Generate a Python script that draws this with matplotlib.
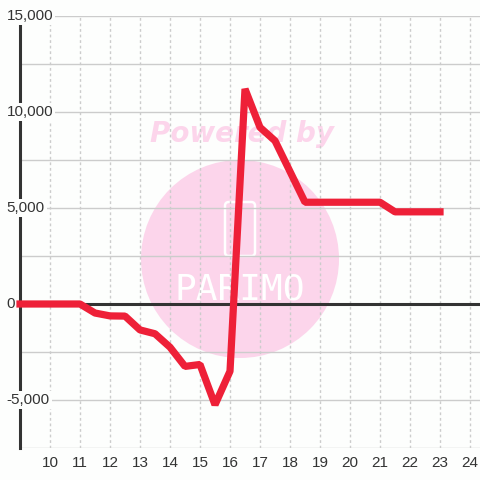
import numpy as np
import matplotlib
matplotlib.use("Agg")
import matplotlib.pyplot as plt
from matplotlib.patches import Circle, FancyBboxPatch

plt.rcParams["font.family"] = ["Liberation Sans", "DejaVu Sans"]

# =============================
# Data
# =============================
x_vals = [9, 9.5, 10, 10.5, 11, 11.5, 12, 12.5, 13, 13.5, 14, 14.5, 15, 15.5,
          16, 16.5, 17, 17.5, 18, 18.5, 19, 19.5, 20, 20.5, 21, 21.5, 22, 22.5, 23]
y_vals = [0, 0, 0, 0, 0, -470, -620, -630, -1350, -1550, -2250, -3250, -3150, -5250,
          -3500, 11200, 9200, 8500, 6900, 5300, 5300, 5300, 5300, 5300, 5300, 4800,
          4800, 4800, 4800]

x_ticks = list(range(10, 25))
y_ticks = [-5000, 0, 5000, 10000, 15000]
y_labels = ["-5,000", "0", "5,000", "10,000", "15,000"]

# =============================
# Figure
# =============================
bg = "#fdfefd"
fig = plt.figure(figsize=(4.8, 4.8), dpi=100)
fig.patch.set_facecolor(bg)
ax = fig.add_axes([20 / 480, 32 / 480, 460 / 480, 432 / 480])
ax.set_facecolor("none")

ax.set_xlim(9, 24.333)
ax.set_ylim(-7500, 15000)

# watermark (behind the grid)
pink = "#fcd5eb"
ax.add_patch(Circle((0.5, 1 - 259 / 480), 99 / 480, transform=fig.transFigure,
                    facecolor=pink, edgecolor="none", zorder=1, clip_on=False))
ax.text(242 / 480, 1 - 134 / 480, "Powered by", transform=fig.transFigure,
        color=pink, fontsize=20, fontweight="bold", fontstyle="italic",
        family="DejaVu Sans", ha="center", va="center", zorder=1)
ax.add_patch(FancyBboxPatch((225 / 480, 1 - 256 / 480), 30 / 480, 54 / 480,
                            boxstyle="round,pad=0,rounding_size=0.008",
                            transform=fig.transFigure, facecolor="none",
                            edgecolor="white", linewidth=1.8, zorder=1, clip_on=False))
ax.text(240 / 480, 1 - 290 / 480, "PARIMO", transform=fig.transFigure,
        color="white", fontsize=26, family="DejaVu Sans Mono",
        ha="center", va="center", zorder=1)

# grid
for yv in np.arange(-7500, 15001, 2500):
    ax.axhline(yv, color="#cccccc", linewidth=1, zorder=2)
for xv in x_ticks:
    ax.plot([xv, xv], [-7500, 15000], color="#cccccc", linewidth=1,
            linestyle=(0, (2, 2)), zorder=2)

# zero line and left spine
ax.axhline(0, color="#333333", linewidth=2.2, zorder=3)
for s in ["top", "right", "bottom"]:
    ax.spines[s].set_visible(False)
ax.spines["left"].set_color("#333333")
ax.spines["left"].set_linewidth(2.2)
ax.spines["left"].set_bounds(-7500, 15000)
ax.spines["left"].set_zorder(3)

# series
ax.plot(x_vals, y_vals, color="#ee2038", linewidth=5.2, zorder=6, clip_on=False,
        solid_joinstyle="bevel")

# ticks
ax.set_xticks(x_ticks)
ax.tick_params(axis="x", length=0, pad=6, labelsize=11, labelcolor="#333333")
ax.set_yticks([])
for yv, lab in zip(y_ticks, y_labels):
    ax.text(6 / 480 - 20 / 480, yv, lab, transform=ax.get_yaxis_transform(),
            ha="left", va="center", fontsize=11, color="#333333", zorder=5,
            bbox=dict(facecolor=bg, edgecolor="none", pad=1.5))

plt.savefig("out.png", dpi=100, facecolor=fig.get_facecolor())
